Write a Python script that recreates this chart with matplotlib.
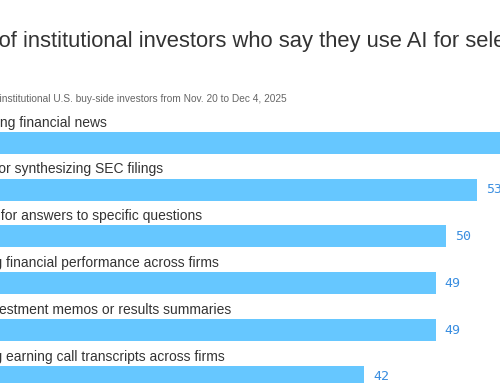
import matplotlib.pyplot as plt
from matplotlib.transforms import blended_transform_factory

# Share of respondents, %
tasks = [
    "Summarizing financial news",
    "Analyzing or synthesizing SEC filings",
    "Searching for answers to specific questions",
    "Comparing financial performance across firms",
    "Writing investment memos or results summaries",
    "Comparing earning call transcripts across firms",
]
shares = [61, 53, 50, 49, 49, 42]

title = "Share of institutional investors who say they use AI for select tasks"
subtitle = "Survey of 200 institutional U.S. buy-side investors from Nov. 20 to Dec 4, 2025"

W, H = 500, 383
fig = plt.figure(figsize=(W / 100, H / 100), dpi=100)
plt.rcParams['font.family'] = ['Liberation Sans', 'DejaVu Sans']

# axes placed in pixels; the chart is cropped on the left and right
x0_px, px_per_unit = -64, 10.2
xmax = 66
ax_top, ax_bot = 100, 400
ax = fig.add_axes([x0_px / W, (H - ax_bot) / H,
                   xmax * px_per_unit / W, (ax_bot - ax_top) / H])

gap = 46.8
ypos = list(range(len(tasks)))
ax.barh(ypos, shares, height=22 / gap, color='#66c7ff', edgecolor='none')
ax.set_xlim(0, xmax)
ax.set_ylim((ax_bot - 142.8) / gap, (ax_top - 142.8) / gap)

lab_tr = blended_transform_factory(fig.transFigure, ax.transData)
for y, name, v in zip(ypos, tasks, shares):
    ax.text(-66 / W, y - 0.43, name, transform=lab_tr, ha='left',
            va='center', fontsize=10, color='#333333', clip_on=False)
    ax.annotate(str(v), (v, y), xytext=(6.5, 0), textcoords='offset points',
                ha='left', va='center', fontsize=9.5, color='#3a8ee0',
                family='DejaVu Sans Mono')
ax.axis('off')

fig.text(-66 / W, 1 - 41 / H, title, ha='left', va='center',
         fontsize=15.8, color='#333333')
fig.text(-66 / W, 1 - 99 / H, subtitle, ha='left', va='center',
         fontsize=7.3, color='#666666')

fig.savefig('out.png', dpi=100)
